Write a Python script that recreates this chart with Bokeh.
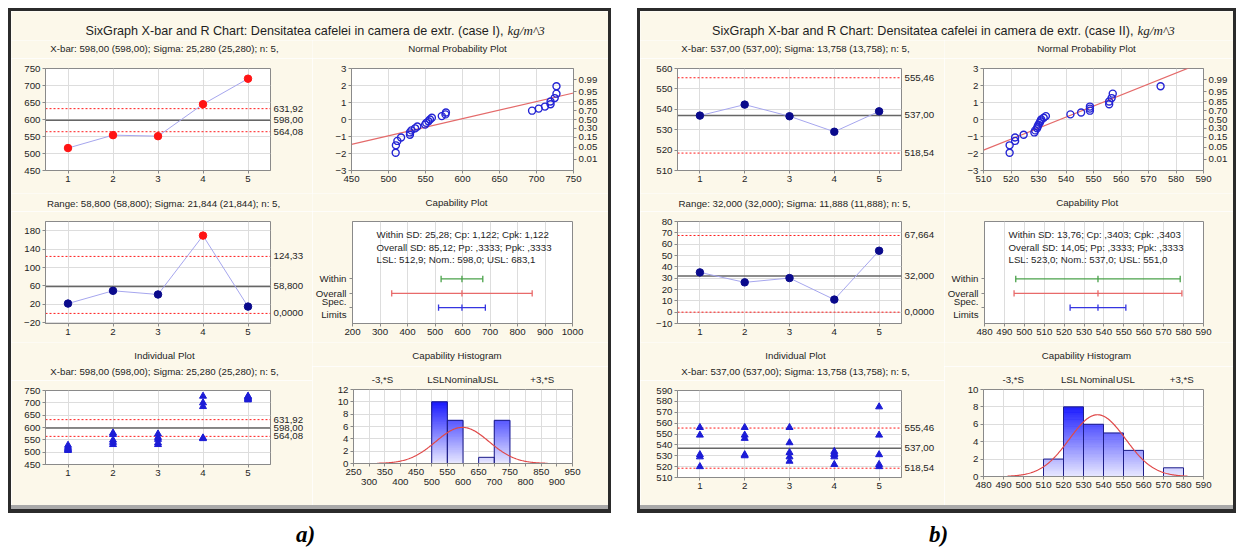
import math
import numpy as np
from bokeh.plotting import figure
from bokeh.models import Label, LinearAxis, FixedTicker, Range1d, Spacer, ColumnDataSource, Span
from bokeh.layouts import row, column
from bokeh.embed import file_html
from bokeh.resources import INLINE

# ======================= DATA =======================
subgroups = [1, 2, 3, 4, 5]
np_prob_lbl = ["0.01", "0.05", "0.15", "0.30", "0.50", "0.70", "0.85", "0.95", "0.99"]
np_prob_z = [-2.326, -1.645, -1.036, -0.524, 0.0, 0.524, 1.036, 1.645, 2.326]
np_scores = [-1.96, -1.52, -1.26, -1.06, -0.90, -0.76, -0.64, -0.52, -0.41, -0.30, -0.20, -0.10, 0.0,
             0.10, 0.20, 0.30, 0.41, 0.52, 0.64, 0.76, 0.90, 1.06, 1.26, 1.52, 1.96]
cap_rows = ["Within", "Overall", "Spec.\nLimits"]
cap_pos = [3, 2, 1]
hist_mark_lbl = ["-3,*S", "LSL", "Nominal", "USL", "+3,*S"]

# ---- panel a) case I ----
a_title = "SixGraph X-bar and R Chart: Densitatea cafelei in camera de extr. (case I),"
a_unit = "kg/m^3"
a_xbar_sub = "X-bar: 598,00 (598,00); Sigma: 25,280 (25,280); n: 5,"
a_range_sub = "Range: 58,800 (58,800); Sigma: 21,844 (21,844); n: 5,"
a_xbar = [516.0, 554.0, 551.0, 645.0, 720.0]
a_xbar_lim = [564.08, 598.00, 631.92]
a_xbar_lim_lbl = ["564,08", "598,00", "631,92"]
a_range = [21.5, 49.4, 41.3, 169.7, 14.9]
a_range_lim = [0.0, 58.8, 124.33]
a_range_lim_lbl = ["0,0000", "58,800", "124,33"]
a_individual = [[507, 510, 515, 520, 528],
                [531, 540, 549, 572, 578],
                [531, 538, 552, 560, 574],
                [555, 558, 685, 700, 727],
                [712, 716, 720, 725, 727]]
a_np_values = [509.7, 510, 512, 517, 529, 529, 531, 536, 539, 549.5, 551, 554, 556,
               558.6, 572, 577, 577.6, 694, 703, 711.5, 719, 719, 724.6, 727, 727]
a_np_line_x = [450, 750]
a_np_line_z = [-1.46, 1.56]
a_cap_low = [522.2, 342.6, 512.9]
a_cap_mid = [598.0, 598.0, 598.0]
a_cap_high = [673.8, 853.4, 683.1]
a_cap_text = ["Within SD: 25,28; Cp: 1,122; Cpk: 1,122",
              "Overall SD: 85,12; Pp: ,3333; Ppk: ,3333",
              "LSL: 512,9; Nom.: 598,0; USL: 683,1"]
a_hist_left = [500, 550, 650, 700]
a_hist_right = [550, 600, 700, 750]
a_hist_count = [10, 7, 1, 7]
a_hist_marks = [342.6, 512.9, 598.0, 683.1, 853.4]
a_mean, a_sd, a_n, a_bw = 598.0, 85.12, 25, 50

# ---- panel b) case II ----
b_title = "SixGraph X-bar and R Chart: Densitatea cafelei in camera de extr. (case II),"
b_unit = "kg/m^3"
b_xbar_sub = "X-bar: 537,00 (537,00); Sigma: 13,758 (13,758); n: 5,"
b_range_sub = "Range: 32,000 (32,000); Sigma: 11,888 (11,888); n: 5,"
b_xbar = [536.9, 542.3, 536.6, 529.0, 539.0]
b_xbar_lim = [518.54, 537.00, 555.46]
b_xbar_lim_lbl = ["518,54", "537,00", "555,46"]
b_range = [35.1, 26.3, 30.1, 11.1, 54.2]
b_range_lim = [0.0, 32.0, 67.664]
b_range_lim_lbl = ["0,0000", "32,000", "67,664"]
b_individual = [[520, 529, 531, 549, 556],
                [530, 531, 546, 549, 556],
                [525, 529, 533, 542, 556],
                [522, 529, 531, 532, 534],
                [520, 522, 531, 549, 575]]
b_np_values = [519.5, 519.5, 521.5, 521.5, 524.6, 528.5, 528.8, 529.5, 529.7, 530.0, 530.4, 530.7, 531.0,
               531.9, 532.7, 541.6, 545.5, 548.7, 548.7, 548.7, 555.7, 555.7, 556.6, 557.0, 574.4]
b_np_line_x = [510, 590]
b_np_line_z = [-1.8, 3.38]
b_cap_low = [495.7, 494.85, 523.0]
b_cap_mid = [537.0, 537.0, 537.0]
b_cap_high = [578.3, 579.15, 551.0]
b_cap_text = ["Within SD: 13,76; Cp: ,3403; Cpk: ,3403",
              "Overall SD: 14,05; Pp: ,3333; Ppk: ,3333",
              "LSL: 523,0; Nom.: 537,0; USL: 551,0"]
b_hist_left = [510, 520, 530, 540, 550, 570]
b_hist_right = [520, 530, 540, 550, 560, 580]
b_hist_count = [2, 8, 6, 5, 3, 1]
b_hist_marks = [494.85, 523.0, 537.0, 551.0, 579.15]
b_mean, b_sd, b_n, b_bw = 537.0, 14.05, 25, 10

# ======================= STYLE =======================
FONT = "Liberation Sans"
SERIF = "Liberation Serif"
CREAM = "#fcf8ea"
FRAME = "#8a8a8a"
GRID = "#dddddd"
TXT = "#1e1e1e"
FS = "9.7px"
RED = "#ff1414"
NAVY = "#0a0a8c"
LINK = "#a6a6ee"
RED_LIM = "#ff1a1a"
CL_COLOR = "#666666"
TRI = "#1c1cd6"
DARK = "#2b2b2b"
GREY = "#a9a9a9"


def base_fig(g, xr, yr):
    w, h, l, r, t, b = g
    p = figure(width=w, height=h, x_range=Range1d(*xr), y_range=Range1d(*yr),
               output_backend="svg", toolbar_location=None, frame_align=False,
               min_border_left=l, min_border_right=r, min_border_top=t, min_border_bottom=b)
    p.background_fill_color = "white"
    p.border_fill_color = CREAM
    p.outline_line_color = FRAME
    p.outline_line_width = 1
    return p


def style_axis(ax, tick_out=3, standoff=2):
    ax.major_label_text_font = FONT
    ax.major_label_text_font_size = FS
    ax.major_label_text_color = TXT
    ax.axis_line_color = FRAME
    ax.major_tick_line_color = FRAME
    ax.major_tick_out = tick_out
    ax.major_tick_in = 0
    ax.minor_tick_line_color = None
    ax.major_label_standoff = standoff


def set_ticks(p, xt, yt, xgrid=True, ygrid=True, xover=None, yover=None):
    xtk = FixedTicker(ticks=xt)
    ytk = FixedTicker(ticks=yt)
    p.below[0].ticker = xtk
    p.left[0].ticker = ytk
    p.xgrid.ticker = xtk
    p.ygrid.ticker = ytk
    p.xgrid.grid_line_color = GRID if xgrid else None
    p.ygrid.grid_line_color = GRID if ygrid else None
    style_axis(p.below[0])
    style_axis(p.left[0])
    if xover:
        p.below[0].major_label_overrides = xover
    if yover:
        p.left[0].major_label_overrides = yover


def add_text(p, text, x, y, align="center", size=FS, font=FONT, style="normal", color=TXT):
    p.add_layout(Label(x=x, y=y, x_units="screen", y_units="screen", text=text,
                       text_align=align, text_baseline="middle", text_font=font,
                       text_font_size=size, text_font_style=style, text_color=color))


def limit_axis(p, vals, lbls):
    ax = LinearAxis(ticker=FixedTicker(ticks=vals), major_label_overrides=dict(zip(vals, lbls)))
    style_axis(ax, tick_out=0, standoff=3)
    ax.axis_line_color = None
    p.add_layout(ax, "right")


def limit_lines(p, lim):
    for v in (lim[0], lim[2]):
        p.add_layout(Span(location=v, dimension="width", line_color=RED_LIM,
                          line_dash="2 2", line_width=1, level="underlay"))
    p.add_layout(Span(location=lim[1], dimension="width", line_color=CL_COLOR,
                      line_width=1.5, level="underlay"))


def control_chart(g, yr, yticks, values, lim, lim_lbl):
    p = base_fig(g, (0.5, 5.5), yr)
    set_ticks(p, subgroups, yticks)
    limit_lines(p, lim)
    colors = [RED if (v > lim[2] or v < lim[0]) else NAVY for v in values]
    src = ColumnDataSource(dict(x=subgroups, y=values, c=colors))
    p.line("x", "y", source=src, line_color=LINK, line_width=1)
    p.scatter("x", "y", source=src, size=7.5, fill_color="c", line_color="c")
    limit_axis(p, lim, lim_lbl)
    return p


def individual_chart(g, yr, yticks, groups, lim, lim_lbl):
    p = base_fig(g, (0.5, 5.5), yr)
    set_ticks(p, subgroups, yticks)
    limit_lines(p, lim)
    xs = [s for s, vals in zip(subgroups, groups) for _ in vals]
    ys = [v for vals in groups for v in vals]
    p.scatter(xs, ys, marker="triangle", size=7, fill_color=TRI, line_color=TRI)
    limit_axis(p, lim, lim_lbl)
    return p


def normal_plot(g, xr, xticks, vals, line_x, line_z):
    p = base_fig(g, xr, (-3, 3))
    set_ticks(p, xticks, [-3, -2, -1, 0, 1, 2, 3])
    p.line(line_x, line_z, line_color="#e46a6a", line_width=1.2)
    p.scatter(vals, np_scores, marker="circle", size=7, fill_color=None,
              line_color="#2424d4", line_width=1.4)
    ax = LinearAxis(ticker=FixedTicker(ticks=np_prob_z),
                    major_label_overrides=dict(zip(np_prob_z, np_prob_lbl)))
    style_axis(ax, tick_out=3, standoff=2)
    p.add_layout(ax, "right")
    return p


def capability_plot(g, xr, xticks, low, mid, high, lines):
    p = base_fig(g, xr, (-0.1, 7.0))
    set_ticks(p, xticks, cap_pos, ygrid=False, yover=dict(zip(cap_pos, cap_rows)))
    p.left[0].major_tick_out = 3
    p.left[0].major_label_standoff = 3
    colors = ["#4aa24a", "#e86a6a", "#3535e0"]
    ys = cap_pos
    cap = 0.22
    p.segment(x0=low, y0=ys, x1=high, y1=ys, line_color=colors, line_width=1.3)
    for xx in (low, mid, high):
        p.segment(x0=xx, y0=[y - cap for y in ys], x1=xx, y1=[y + cap for y in ys],
                  line_color=colors, line_width=1.3)
    fh = g[1] - g[4] - g[5]
    for i, txt in enumerate(lines):
        add_text(p, txt, 24, fh - 13 - 12.5 * i, align="left")
    return p


def grad(frac):
    frac = max(0.0, min(1.0, frac))
    lo = (234, 234, 255)
    hi = (24, 24, 255)
    c = [int(round(lo[k] + (hi[k] - lo[k]) * frac)) for k in range(3)]
    return "#%02x%02x%02x" % tuple(c)


def histogram(g, xr, xticks, xalt, yr, yticks, left, right, counts, marks, mean, sd, n, bw):
    p = base_fig(g, xr, yr)
    over = {t: "" for t in xalt} if xalt else None
    set_ticks(p, xticks, yticks, xover=over)
    cmax = max(counts)
    sl = dict(l=[], r=[], b=[], t=[], c=[])
    step = 0.1
    for lf, rt, c in zip(left, right, counts):
        k = 0
        while k * step < c - 1e-9:
            b0 = k * step
            t0 = min((k + 1) * step, c)
            sl["l"].append(lf)
            sl["r"].append(rt)
            sl["b"].append(b0)
            sl["t"].append(t0)
            sl["c"].append(grad(((b0 + t0) / 2) / cmax))
            k += 1
    p.quad(left="l", right="r", bottom="b", top="t", fill_color="c", line_color="c",
           line_width=0.6, source=ColumnDataSource(sl))
    p.quad(left=left, right=right, bottom=0, top=counts, fill_color=None,
           line_color="#1e1e88", line_width=1)
    xs = np.linspace(mean - 3.2 * sd, mean + 3.2 * sd, 200)
    ys = n * bw / (sd * math.sqrt(2 * math.pi)) * np.exp(-0.5 * ((xs - mean) / sd) ** 2)
    p.line(xs, ys, line_color="#e04848", line_width=1.2)
    if xalt:
        ax2 = LinearAxis(ticker=FixedTicker(ticks=xalt))
        style_axis(ax2, tick_out=0, standoff=1)
        ax2.axis_line_color = None
        ax2.major_tick_line_color = None
        p.add_layout(ax2, "below")
    top = LinearAxis(ticker=FixedTicker(ticks=marks), major_label_overrides=dict(zip(marks, hist_mark_lbl)))
    style_axis(top, tick_out=0, standoff=5)
    top.axis_line_color = None
    top.major_tick_line_color = None
    p.add_layout(top, "above")
    return p


def plain_fig(w, h, bg=CREAM):
    p = figure(width=w, height=h, x_range=Range1d(0, 1), y_range=Range1d(0, 1),
               output_backend="svg", toolbar_location=None, frame_align=False,
               min_border_left=0, min_border_right=0, min_border_top=0, min_border_bottom=0,
               x_axis_type=None, y_axis_type=None)
    p.outline_line_color = None
    p.background_fill_color = bg
    p.border_fill_color = bg
    return p


def strip(w, h, texts):
    p = plain_fig(w, h)
    for txt, x, y in texts:
        add_text(p, txt, x, y)
    return p


def title_fig(w, h, text, unit, x_end):
    p = plain_fig(w, h)
    add_text(p, text, x_end, 10, align="right", size="12.6px")
    add_text(p, unit, x_end + 4, 10, align="left", size="13px", font=SERIF, style="italic")
    return p


def bar(w, h, color):
    return Spacer(width=w, height=h, styles={"background-color": color})


def panel(inner_w, wl, wr, fl, d):
    lx, ln, lc, lh = fl
    p_xbar = control_chart((wl, 135, lx, wl - lx - d["fw_l"], 10, 23), d["xbar_yr"], d["xbar_yt"],
                           d["xbar"], d["xbar_lim"], d["xbar_lim_lbl"])
    p_norm = normal_plot((wr, 135, ln, wr - ln - d["fw_n"], 10, 23), d["np_xr"], d["np_xt"],
                         d["np_values"], d["np_line_x"], d["np_line_z"])
    p_r = control_chart((wl, 131, lx, wl - lx - d["fw_l"], 10, 19), d["r_yr"], d["r_yt"],
                        d["range"], d["range_lim"], d["range_lim_lbl"])
    p_cap = capability_plot((wr, 131, lc, wr - lc - d["fw_c"], 10, 19), d["cap_xr"], d["cap_xt"],
                            d["cap_low"], d["cap_mid"], d["cap_high"], d["cap_text"])
    p_ind = individual_chart((wl, 125, lx, wl - lx - d["fw_l"], 10, d["ind_b"]), d["ind_yr"],
                             d["ind_yt"], d["individual"], d["xbar_lim"], d["xbar_lim_lbl"])
    p_hist = histogram((wr, 139, lh, wr - lh - d["fw_h"], 23, d["hist_b"]), d["h_xr"], d["h_xt"],
                       d["h_xalt"], d["h_yr"], d["h_yt"], d["h_left"], d["h_right"], d["h_count"],
                       d["h_marks"], d["mean"], d["sd"], d["n"], d["bw"])
    sx = d["sx"]
    s_xbar = strip(wl, 18, [(d["xbar_sub"], lx + sx[0], 10)])
    s_norm = strip(wr, 18, [("Normal Probability Plot", ln + sx[1], 10)])
    s_r = strip(wl, 18, [(d["range_sub"], lx + sx[2], 7.7)])
    s_cap = strip(wr, 18, [("Capability Plot", lc + sx[3], 9)])
    s_ind = strip(wl, 38, [("Individual Plot", lx + sx[4], 25), (d["xbar_sub"], lx + sx[4], 9.3)])
    s_hist = strip(wr, 24, [("Capability Histogram", lh + sx[5], 11)])
    tf = title_fig(inner_w, 29, d["title"], d["unit"], d["title_end"])
    inner = column(bar(inner_w, 3, DARK), tf,
                   row(column(s_xbar, p_xbar), column(s_norm, p_norm)),
                   row(column(s_r, p_r), column(s_cap, p_cap)),
                   row(column(s_ind, p_ind), column(s_hist, p_hist)),
                   bar(inner_w, 4, GREY), bar(inner_w, 4, DARK))
    return row(bar(3, 505, DARK), inner, bar(3, 505, DARK))


da = dict(title=a_title, unit=a_unit, title_end=492, xbar_sub=a_xbar_sub, range_sub=a_range_sub,
          xbar=a_xbar, xbar_lim=a_xbar_lim, xbar_lim_lbl=a_xbar_lim_lbl, xbar_yr=(450, 750),
          xbar_yt=[450, 500, 550, 600, 650, 700, 750], ind_yr=(450, 750),
          ind_yt=[450, 500, 550, 600, 650, 700, 750], ind_b=41, hist_b=42,
          range=a_range, range_lim=a_range_lim, range_lim_lbl=a_range_lim_lbl, r_yr=(-22, 200.5),
          r_yt=[-20, 20, 60, 100, 140, 180], individual=a_individual,
          np_xr=(450, 750), np_xt=[450, 500, 550, 600, 650, 700, 750], np_values=a_np_values,
          np_line_x=a_np_line_x, np_line_z=a_np_line_z,
          cap_xr=(200, 1000), cap_xt=[200, 300, 400, 500, 600, 700, 800, 900, 1000],
          cap_low=a_cap_low, cap_mid=a_cap_mid, cap_high=a_cap_high, cap_text=a_cap_text,
          h_xr=(250, 950), h_xt=list(range(250, 951, 50)), h_xalt=list(range(300, 901, 100)),
          h_yr=(0, 12), h_yt=[0, 2, 4, 6, 8, 10, 12], h_left=a_hist_left, h_right=a_hist_right,
          h_count=a_hist_count, h_marks=a_hist_marks, mean=a_mean, sd=a_sd, n=a_n, bw=a_bw,
          fw_l=225, fw_n=222, fw_c=220, fw_h=219,
          sx=[119, 106, 118, 104, 119, 103.5])
db = dict(title=b_title, unit=b_unit, title_end=493, xbar_sub=b_xbar_sub, range_sub=b_range_sub,
          xbar=b_xbar, xbar_lim=b_xbar_lim, xbar_lim_lbl=b_xbar_lim_lbl, xbar_yr=(510, 560),
          xbar_yt=[510, 520, 530, 540, 550, 560], ind_yr=(510, 590),
          ind_yt=[510, 520, 530, 540, 550, 560, 570, 580, 590], ind_b=28, hist_b=29,
          range=b_range, range_lim=b_range_lim, range_lim_lbl=b_range_lim_lbl, r_yr=(-10, 80),
          r_yt=[-10, 0, 10, 20, 30, 40, 50, 60, 70, 80], individual=b_individual,
          np_xr=(510, 590), np_xt=[510, 520, 530, 540, 550, 560, 570, 580, 590], np_values=b_np_values,
          np_line_x=b_np_line_x, np_line_z=b_np_line_z,
          cap_xr=(480, 590), cap_xt=list(range(480, 591, 10)),
          cap_low=b_cap_low, cap_mid=b_cap_mid, cap_high=b_cap_high, cap_text=b_cap_text,
          h_xr=(480, 590), h_xt=list(range(480, 591, 10)), h_xalt=None,
          h_yr=(0, 10), h_yt=[0, 2, 4, 6, 8, 10], h_left=b_hist_left, h_right=b_hist_right,
          h_count=b_hist_count, h_marks=b_hist_marks, mean=b_mean, sd=b_sd, n=b_n, bw=b_bw,
          fw_l=224, fw_n=220, fw_c=221, fw_h=220,
          sx=[118, 103, 117, 104.7, 118, 103])

panel_a = panel(597, 301, 296, (34, 39, 40, 41), da)
panel_b = panel(593, 304, 289, (37, 39, 38, 39), db)

bottom = plain_fig(1228, 36, bg="white")
add_text(bottom, "a)", 297, 15, size="23px", font=SERIF, style="bold italic", color="#000000")
add_text(bottom, "b)", 930, 15, size="23px", font=SERIF, style="bold italic", color="#000000")

content = column(row(panel_a, Spacer(width=26, height=505), panel_b), bottom)
layout = column(Spacer(width=1236, height=8), row(Spacer(width=8, height=541), content))

open("out.html", "w").write(file_html(layout, INLINE))
